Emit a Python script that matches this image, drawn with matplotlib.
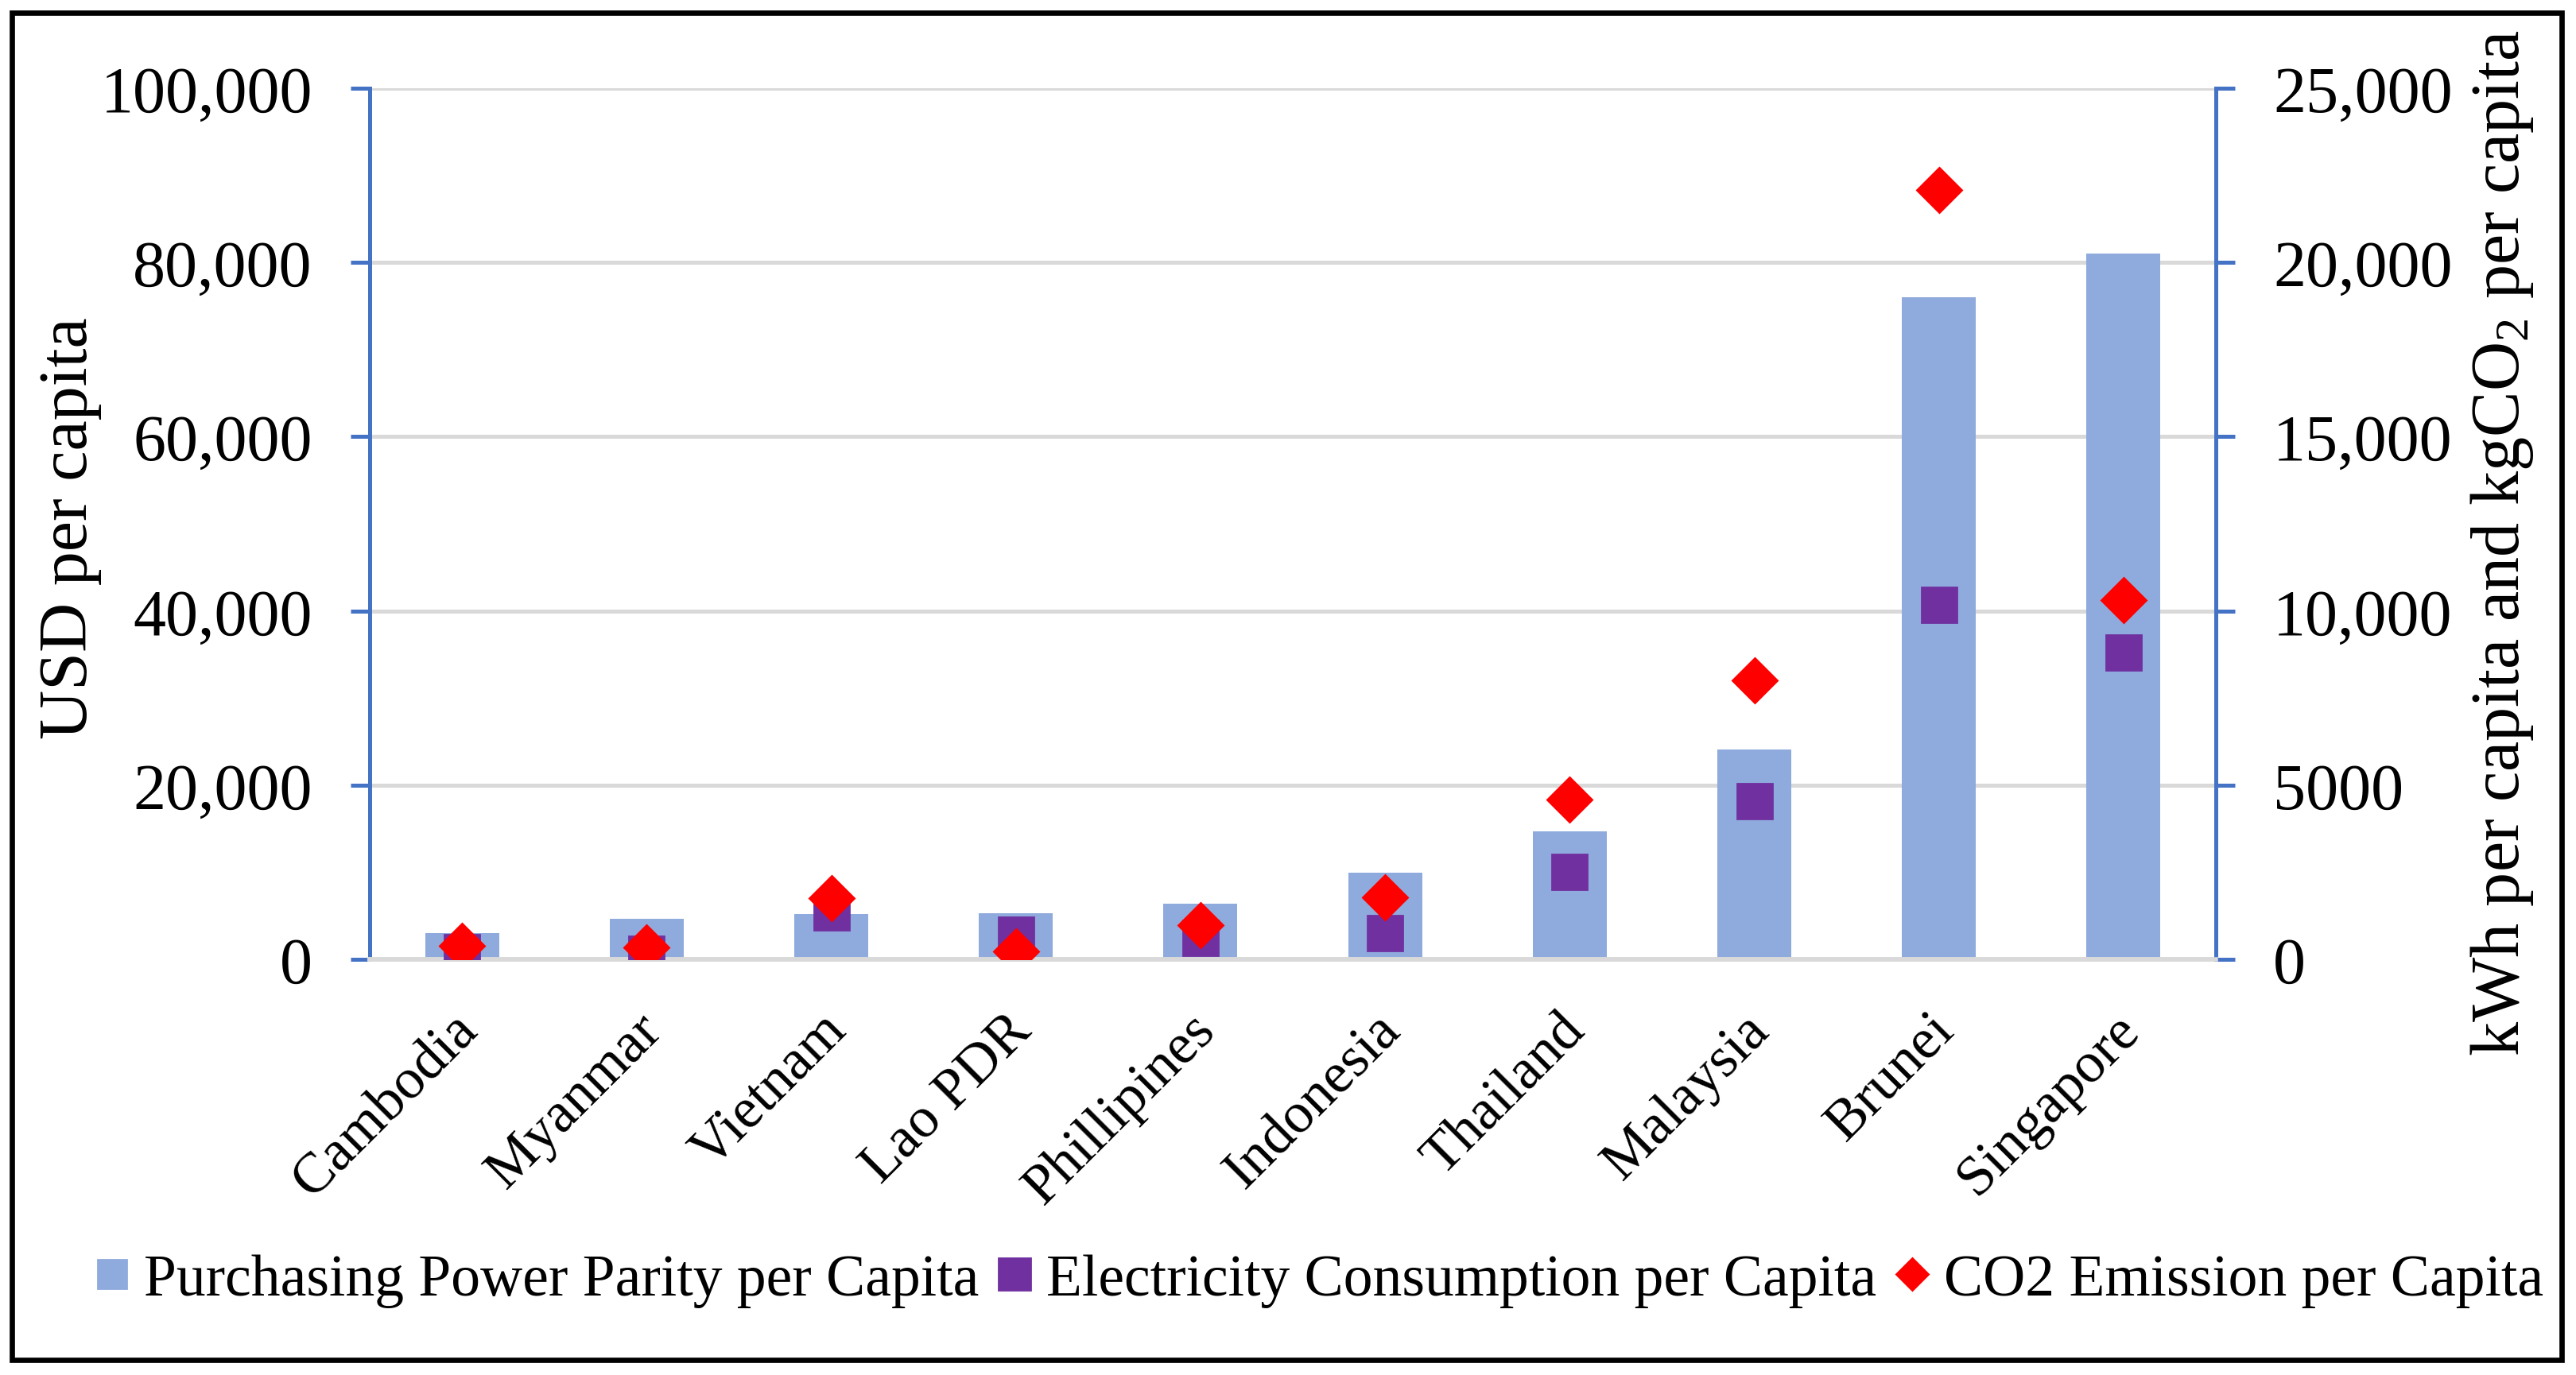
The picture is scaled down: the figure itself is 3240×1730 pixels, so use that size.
import matplotlib
matplotlib.use("Agg")
import matplotlib.pyplot as plt
from matplotlib.lines import Line2D
from matplotlib.patches import Rectangle
from matplotlib.transforms import ScaledTranslation

# fonts: Times-like look as in the Excel original
plt.rcParams['font.family'] = ['Liberation Serif', 'DejaVu Serif']
plt.rcParams['mathtext.fontset'] = 'custom'
plt.rcParams['mathtext.rm'] = 'Liberation Serif'

countries = ["Cambodia", "Myanmar", "Vietnam", "Lao PDR", "Phillipines",
             "Indonesia", "Thailand", "Malaysia", "Brunei", "Singapore"]
ppp = [3000, 4650, 5200, 5300, 6400, 9900, 14700, 24100, 76000, 81000]        # USD per capita
elec = [200, 155, 1335, 700, 605, 760, 2520, 4550, 10180, 8810]               # kWh per capita
co2 = [395, 350, 1760, 220, 990, 1780, 4580, 8000, 22080, 10300]              # kgCO2 per capita

left_ticks = [0, 20000, 40000, 60000, 80000, 100000]
left_labels = ["0", "20,000", "40,000", "60,000", "80,000", "100,000"]
right_ticks = [0, 5000, 10000, 15000, 20000, 25000]
right_labels = ["0", "5000", "10,000", "15,000", "20,000", "25,000"]

BAR = "#8FAADC"
SQ = "#7030A0"
DIA = "#FF0000"
AXC = "#4472C4"
GRID = "#D9D9D9"
SERIF = 'Liberation Serif'

W, H = 3240, 1731
fig = plt.figure(figsize=(W / 200, H / 200), dpi=200)
ax = fig.add_axes([465 / W, 1 - 1208 / H, (2787 - 465) / W, (1208 - 112) / H])
ax2 = ax.twinx()

x = list(range(len(countries)))
ax.bar(x, ppp, width=0.40, color=BAR, zorder=2)
ax.set_ylim(0, 100000)
ax.set_xlim(-0.5, len(countries) - 0.5)
ax.set_yticks(left_ticks)
ax.set_yticklabels(left_labels)
ax.set_xticks(x)
ax.set_xticklabels(countries, rotation=45, ha='right', va='top', rotation_mode='anchor')
ax.tick_params(axis='x', length=0, pad=20, labelsize=26)
ax.tick_params(axis='y', length=8.5, width=1.8, color=AXC, pad=17.5, labelsize=29.5)
ax.yaxis.grid(True, color=GRID, lw=1.8, zorder=0)
ax.set_axisbelow(True)
# nudge rotated category labels a little to the left, like the original
for lab in ax.get_xticklabels():
    lab.set_transform(lab.get_transform() + ScaledTranslation(-5 / 72, 0, fig.dpi_scale_trans))

ax2.plot(x, elec, ls='none', marker='s', ms=15.5, color=SQ, zorder=3)
ax2.plot(x, co2, ls='none', marker='D', ms=14.5, color=DIA, zorder=4)
ax2.set_ylim(0, 25000)
ax2.set_yticks(right_ticks)
ax2.set_yticklabels(right_labels)
ax2.tick_params(axis='y', length=8.5, width=1.8, color=AXC, pad=17.5, labelsize=29.5)

for a in (ax, ax2):
    a.spines['top'].set_visible(False)
    a.spines['left'].set_color(AXC)
    a.spines['right'].set_color(AXC)
    a.spines['left'].set_linewidth(1.8)
    a.spines['right'].set_linewidth(1.8)
    a.spines['bottom'].set_color(GRID)
    a.spines['bottom'].set_linewidth(2.0)
ax2.spines['left'].set_visible(False)
ax.spines['right'].set_visible(False)

fig.text(88 / W, 0.616, "USD per capita", rotation=90, ha='center', va='center', fontsize=31)
fig.text(3147 / W, 0.605, r"kWh per capita and kgCO$\mathregular{_2}$ per capita",
         rotation=90, ha='center', va='center', fontsize=31)

handles = [
    Line2D([], [], ls='none', marker='s', ms=13, color=BAR),
    Line2D([], [], ls='none', marker='s', ms=14.5, color=SQ),
    Line2D([], [], ls='none', marker='D', ms=10, color=DIA),
]
labels = ["Purchasing Power Parity per Capita", "Electricity Consumption per Capita",
          "CO2 Emission per Capita"]
fig.legend(handles, labels, loc='center', bbox_to_anchor=(0.512, 1 - 1612 / H), ncol=3,
           frameon=False, prop={'family': SERIF, 'size': 26.5}, handlelength=0.6,
           handletextpad=0.25, columnspacing=0.3, borderaxespad=0)

# outer border of the chart area
fig.patches.append(Rectangle((15 / W, 1 - 1712 / H), (3222 - 15) / W, (1712 - 17) / H,
                             transform=fig.transFigure, fill=False, ec='black', lw=2.4))

fig.savefig("out.png", dpi=200)
